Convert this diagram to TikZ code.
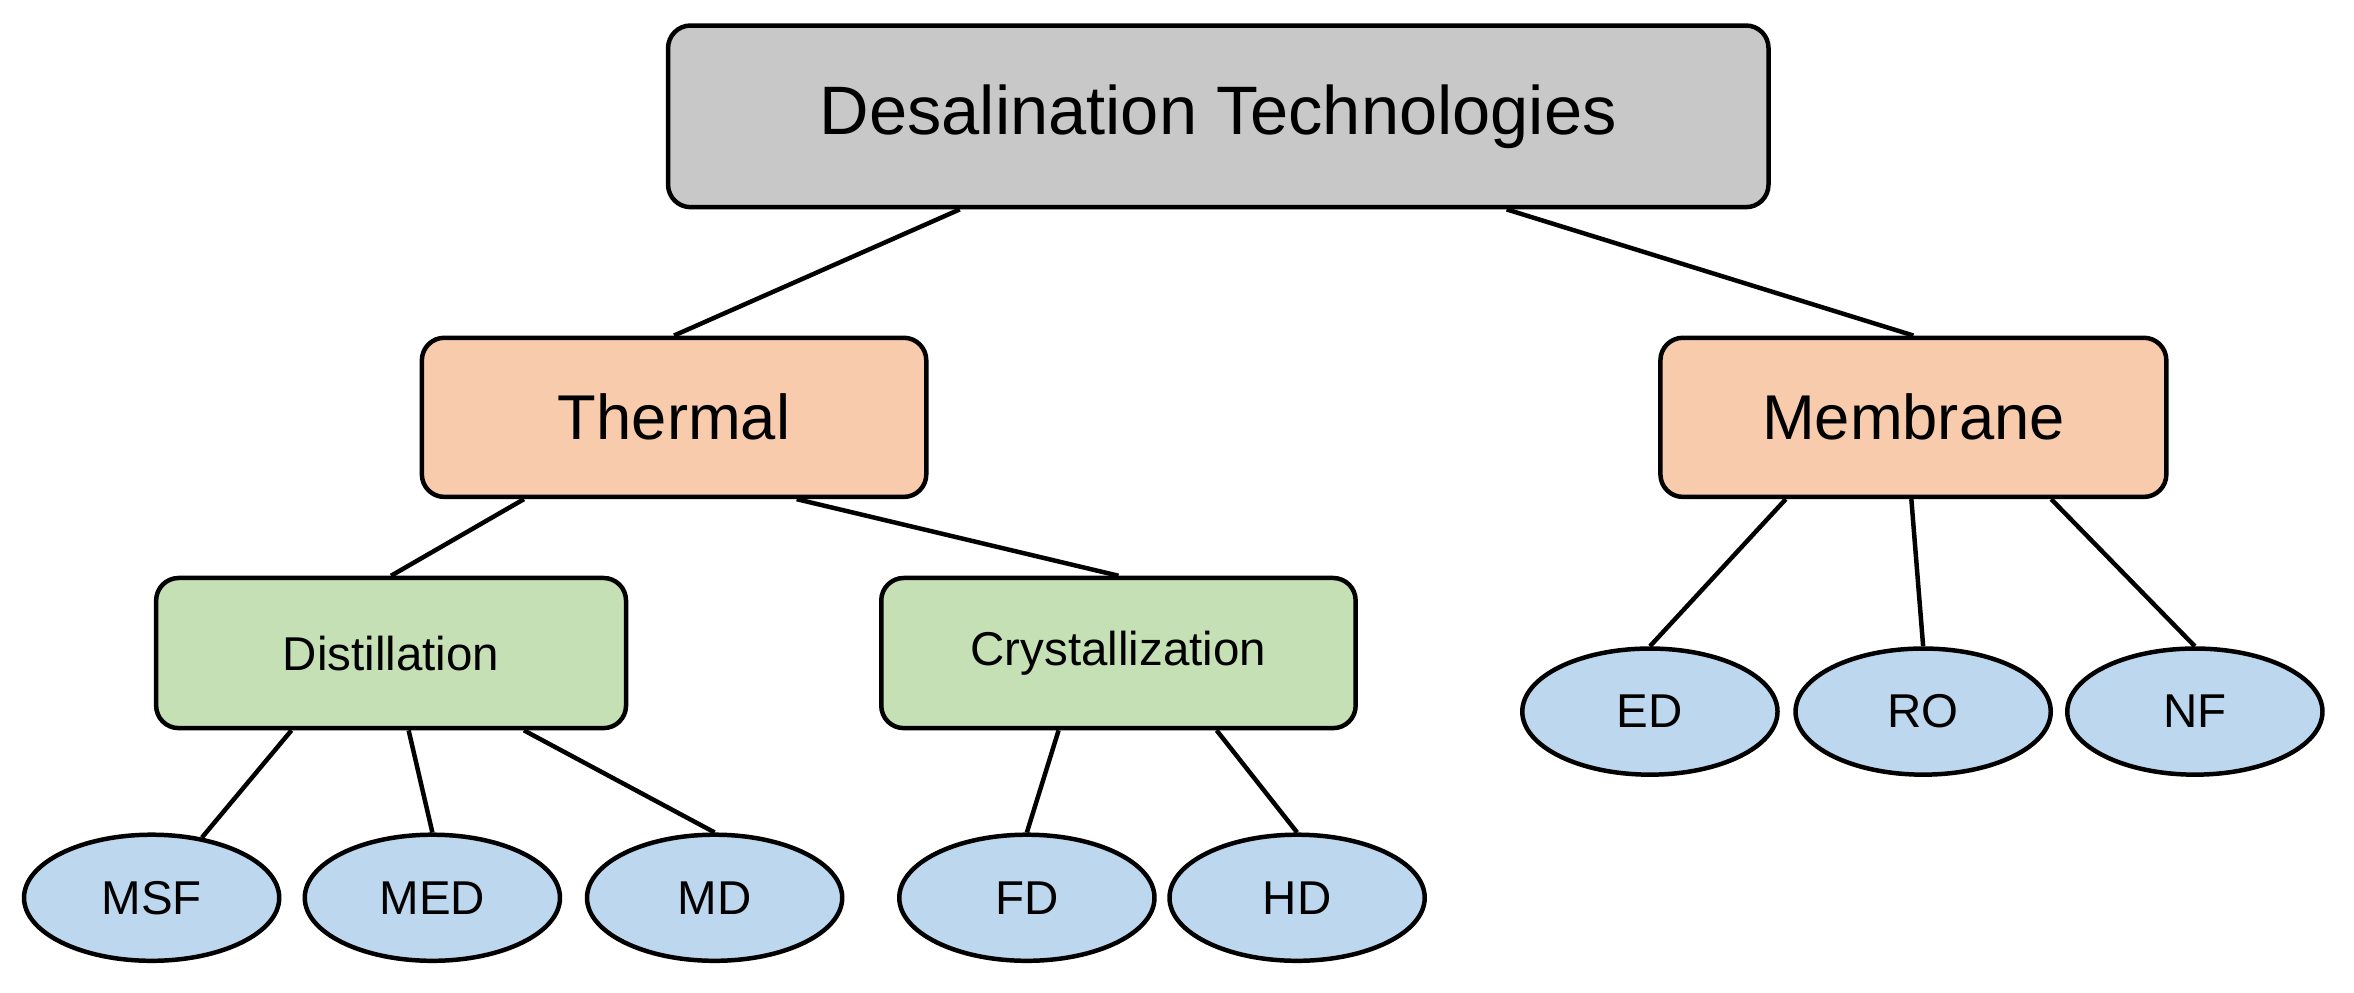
\documentclass[tikz,border=0pt]{standalone}
\usepackage{fontspec}
\setmainfont{Liberation Sans}
\usetikzlibrary{calc,shapes.geometric}
\definecolor{gr}{HTML}{C8C8C8}
\definecolor{or}{HTML}{F8CBAD}
\definecolor{gn}{HTML}{C5E0B4}
\definecolor{bl}{HTML}{BDD7EE}
\begin{document}
\begin{tikzpicture}[x=0.02cm,y=-0.02cm,line width=1.7pt,
 box/.style={draw,rounded corners=0.3cm,inner sep=0pt},
 ell/.style={draw,ellipse,fill=bl,minimum width=170*0.02cm,minimum height=84*0.02cm,inner sep=0pt,font=\fontsize{18}{20}\selectfont}]
\useasboundingbox (0,0) rectangle (1568,661);
\node[box,fill=gr,minimum width=733*0.02cm,minimum height=121*0.02cm,font=\fontsize{26}{30}\selectfont] (top) at (811.5,77.5) {Desalination Technologies};
\node[box,fill=or,minimum width=336*0.02cm,minimum height=106*0.02cm,font=\fontsize{24}{28}\selectfont] (th) at (449,278) {Thermal};
\node[box,fill=or,minimum width=337*0.02cm,minimum height=106*0.02cm,font=\fontsize{24}{28}\selectfont] (mem) at (1274.5,278) {Membrane};
\node[box,fill=gn,minimum width=313*0.02cm,minimum height=100*0.02cm,font=\fontsize{18}{22}\selectfont] (dis) at (260.5,435) {Distillation};
\node[box,fill=gn,minimum width=316*0.02cm,minimum height=100*0.02cm,font=\fontsize{18}{22}\selectfont] (cry) at (745,435) {Crystallization};
\node[ell] (msf) at (101,598) {MSF};
\node[ell] (med) at (288,598) {MED};
\node[ell] (md) at (476,598) {MD};
\node[ell] (fd) at (684,598) {FD};
\node[ell] (hd) at (864,598) {HD};
\node[ell] (ed) at (1099,474) {ED};
\node[ell] (ro) at (1281,474) {RO};
\node[ell] (nf) at (1462,474) {NF};
\draw ($(top.south west)!0.266!(top.south east)$) -- (th.north);
\draw ($(top.south west)!0.761!(top.south east)$) -- (mem.north);
\draw ($(th.south west)!0.205!(th.south east)$) -- (dis.north);
\draw ($(th.south west)!0.741!(th.south east)$) -- (cry.north);
\draw ($(dis.south west)!0.29!(dis.south east)$) -- (msf);
\draw ($(dis.south west)!0.537!(dis.south east)$) -- (med.north);
\draw ($(dis.south west)!0.78!(dis.south east)$) -- (md.north);
\draw ($(cry.south west)!0.375!(cry.south east)$) -- (fd.north);
\draw ($(cry.south west)!0.705!(cry.south east)$) -- (hd.north);
\draw ($(mem.south west)!0.25!(mem.south east)$) -- (ed.north);
\draw ($(mem.south west)!0.496!(mem.south east)$) -- (ro.north);
\draw ($(mem.south west)!0.77!(mem.south east)$) -- (nf.north);
\end{tikzpicture}
\end{document}
